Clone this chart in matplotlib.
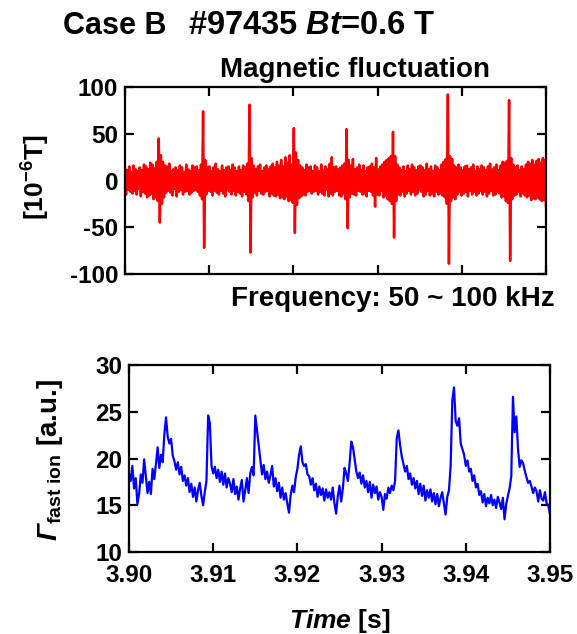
import numpy as np
import matplotlib
matplotlib.use("Agg")
import matplotlib.pyplot as plt

# ---------------- data ----------------
t_start, t_end = 3.90, 3.95

# magnetic fluctuation (50-100 kHz band), units 1e-6 T, uniformly sampled
b_fluct = [
    14, -15, 11, -10, 15, -12, 9, -14, 16, -11, 12, -15, 10, -9, 14, -17, 11, -12, 17, -14,
    15, -18, 12, -16, 19, -14, 17, -20, 13, -18, 20, -22, 45, -45, 27, -25, 20, -18, 16, -13,
    15, -11, 18, -13, 10, -16, 12, -9, 14, -17, 11, -12, 16, -10, 14, -15, 9, -12, 17, -11,
    12, -15, 10, -13, 16, -11, 14, -10, 15, -12, 11, -16, 17, -20, 74, -72, 22, -15, 14, -11,
    15, -12, 10, -16, 14, -11, 18, -13, 12, -15, 10, -11, 16, -14, 11, -17, 14, -10, 15, -12,
    11, -15, 17, -11, 14, -16, 10, -12, 15, -14, 11, -17, 16, -12, 14, -15, 18, -22, 81, -77,
    24, -18, 16, -13, 12, -16, 15, -11, 17, -14, 10, -15, 14, -12, 16, -11, 12, -17, 15, -14,
    18, -16, 14, -17, 20, -15, 16, -19, 22, -18, 15, -20, 25, -17, 19, -22, 27, -21, 17, -24,
    56, -56, 30, -26, 22, -19, 16, -17, 14, -15, 11, -16, 17, -12, 14, -11, 15, -14, 10, -12,
    16, -11, 14, -15, 10, -12, 17, -14, 11, -16, 15, -10, 12, -17, 18, -14, 25, -16, 14, -12,
    15, -11, 12, -16, 14, -17, 16, -14, 18, -20, 55, -51, 22, -18, 16, -14, 23, -15, 12, -16,
    14, -11, 17, -12, 11, -15, 16, -14, 10, -17, 14, -11, 15, -12, 18, -16, 14, -28, 24, -15,
    12, -16, 15, -11, 17, -18, 20, -16, 22, -20, 24, -22, 26, -25, 52, -61, 26, -22, 17, -15,
    14, -16, 11, -12, 15, -17, 10, -14, 16, -11, 12, -15, 17, -12, 14, -16, 11, -14, 15, -10,
    16, -12, 14, -17, 11, -15, 18, -11, 12, -16, 15, -14, 10, -17, 16, -12, 14, -15, 11, -14,
    17, -16, 20, -18, 23, -25, 92, -89, 26, -22, 23, -18, 16, -20, 14, -15, 17, -12, 14, -16,
    11, -14, 15, -12, 16, -17, 12, -11, 14, -15, 17, -12, 10, -16, 15, -14, 12, -11, 16, -15,
    14, -12, 11, -17, 15, -14, 18, -11, 12, -16, 14, -15, 17, -12, 11, -14, 16, -18, 20, -17,
    19, -22, 21, -24, 86, -86, 24, -20, 17, -16, 14, -15, 16, -12, 11, -17, 15, -14, 12, -16,
    17, -18, 20, -16, 18, -21, 22, -19, 17, -20, 21, -18, 23, -20, 19, -22, 24, -21, 22, -28,
]

# fast-ion flux, a.u., uniformly sampled
gamma_fast = [
    18.4, 17.6, 19.2, 16.8, 17.9, 15.1, 16.2, 18.3, 17.4, 19.9,
    18.1, 16.3, 17.5, 16.2, 18.9, 17.8, 19.4, 21.2, 19.0, 20.4,
    19.6, 22.6, 24.4, 22.3, 21.6, 22.1, 20.3, 19.7, 18.8, 19.6,
    18.3, 19.1, 17.6, 18.2, 17.1, 17.9, 16.4, 17.3, 15.9, 16.9,
    15.4, 16.6, 17.4, 16.0, 15.0, 16.4, 17.6, 24.6, 23.8, 19.2,
    18.4, 19.1, 17.9, 18.8, 17.5, 18.6, 17.2, 18.4, 16.9, 17.9,
    17.3, 16.4, 17.8, 16.2, 17.0, 15.6, 16.8, 17.7, 15.4, 16.6,
    17.9, 16.3, 18.4, 19.1, 18.2, 24.6, 23.0, 21.4, 19.8, 18.3,
    19.3, 17.8, 18.6, 17.4, 18.2, 19.2, 17.0, 17.9, 16.5, 17.4,
    15.8, 16.9, 15.6, 16.3, 15.2, 14.2, 16.1, 17.1, 16.4, 18.0,
    18.9, 20.4, 21.3, 19.6, 19.2, 19.4, 18.3, 18.1, 17.2, 17.9,
    16.6, 17.3, 15.9, 17.0, 16.1, 16.8, 15.5, 16.7, 15.8, 16.4,
    15.6, 16.9, 15.2, 14.1, 16.0, 17.1, 15.4, 16.8, 19.0, 18.4,
    17.6, 19.5, 21.8, 21.2, 19.9, 18.6, 17.9, 18.5, 17.3, 18.2,
    16.9, 17.6, 16.4, 17.5, 15.8, 17.2, 16.3, 17.0, 15.6, 16.4,
    15.9, 14.5, 16.2, 15.7, 16.9, 16.3, 17.1, 16.6, 17.6, 22.2,
    23.0, 21.4, 20.2, 19.4, 18.6, 19.2, 17.8, 18.4, 17.2, 17.9,
    16.8, 17.6, 16.2, 17.3, 16.0, 17.1, 15.5, 16.6, 15.8, 16.7,
    15.4, 16.3, 15.1, 16.2, 14.9, 15.8, 16.4, 15.2, 14.0, 15.9,
    16.6, 19.2, 26.2, 27.6, 24.0, 23.5, 24.3, 21.6, 21.0, 20.4,
    19.2, 19.8, 18.6, 18.9, 17.6, 18.2, 16.9, 17.3, 16.1, 16.5,
    15.3, 16.2, 14.9, 15.8, 15.2, 16.1, 15.0, 15.6, 14.7, 15.9,
    15.3, 14.6, 15.8, 13.5, 15.1, 16.0, 16.8, 18.1, 26.6, 22.8,
    24.5, 21.0, 19.1, 19.8, 19.5, 18.7, 18.0, 17.4, 17.6, 17.0,
    16.3, 16.9, 16.5, 15.4, 16.6, 15.7, 15.5, 16.4, 15.2, 15.0,
    14.0,
]

x_ticks = [3.90, 3.91, 3.92, 3.93, 3.94, 3.95]
x_tick_labels = ["3.90", "3.91", "3.92", "3.93", "3.94", "3.95"]
b_ticks = [-100, -50, 0, 50, 100]
g_ticks = [10, 15, 20, 25, 30]

t_b = np.linspace(t_start, t_end, len(b_fluct))
t_g = np.linspace(t_start, t_end, len(gamma_fast))

# ---------------- style ----------------
plt.rcParams.update({
    "font.family": ["Liberation Sans", "DejaVu Sans"],
    "font.weight": "bold",
    "mathtext.fontset": "custom",
    "mathtext.rm": "Liberation Sans:italic",
    "mathtext.it": "Liberation Sans:italic",
    "mathtext.bf": "Liberation Sans:bold",
    "mathtext.sf": "Liberation Sans",
    "mathtext.bfit": "Liberation Sans:italic:bold",
})

W, H = 577, 634
fig = plt.figure(figsize=(W / 100, H / 100), dpi=100)


def px_axes(l, t, r, b):
    return fig.add_axes([l / W, 1 - b / H, (r - l) / W, (b - t) / H])


def style(ax):
    for s in ax.spines.values():
        s.set_linewidth(1.6)
    ax.tick_params(direction="in", length=6.5, width=1.6, top=True, right=True,
                   labelsize=17.5, pad=5)
    for lab in ax.get_xticklabels() + ax.get_yticklabels():
        lab.set_fontweight("bold")


ax1 = px_axes(125, 87, 546, 274)
ax1.plot(t_b, b_fluct, color="#ff0000", lw=1.8)
ax1.set_xlim(t_start, t_end)
ax1.set_ylim(-100, 100)
ax1.set_xticks(x_ticks)
ax1.set_xticklabels([])
ax1.set_yticks(b_ticks)
ax1.set_yticklabels([str(v) for v in b_ticks])
style(ax1)

ax2 = px_axes(129, 365, 550, 552)
ax2.plot(t_g, gamma_fast, color="#0000ff", lw=1.6)
ax2.set_xlim(t_start, t_end)
ax2.set_ylim(10, 30)
ax2.set_xticks(x_ticks)
ax2.set_xticklabels(x_tick_labels)
ax2.set_yticks(g_ticks)
ax2.set_yticklabels([str(v) for v in g_ticks])
style(ax2)
ax2.tick_params(axis="x", pad=9)

# ---------------- texts ----------------
fig.text(63 / W, 1 - 34 / H, "Case B", fontsize=22, fontweight="bold", va="baseline")
fig.text(188 / W, 1 - 34 / H, r"#97435 $\mathbfit{Bt}$=0.6 T", fontsize=23.5,
         fontweight="bold", va="baseline")
fig.text(355 / W, 1 - 77 / H, "Magnetic fluctuation", fontsize=20, fontweight="bold",
         ha="center", va="baseline")
fig.text(555 / W, 1 - 306 / H, "Frequency: 50 ~ 100 kHz", fontsize=20,
         fontweight="bold", ha="right", va="baseline")
fig.text(36 / W, 1 - 177 / H, r"[10$^{\mathbf{-6}}$T]", fontsize=19, fontweight="bold",
         rotation=90, ha="center", va="center")
fig.text(50 / W, 1 - 460 / H, r"$\Gamma_{\mathsf{fast\ ion}}$ [a.u.]", fontsize=20,
         fontweight="bold", rotation=90, ha="center", va="center")
fig.text(340 / W, 1 - 628 / H, r"$\mathbfit{Time}$ [s]", fontsize=19,
         fontweight="bold", ha="center", va="baseline")

fig.savefig("out.png", dpi=100)
